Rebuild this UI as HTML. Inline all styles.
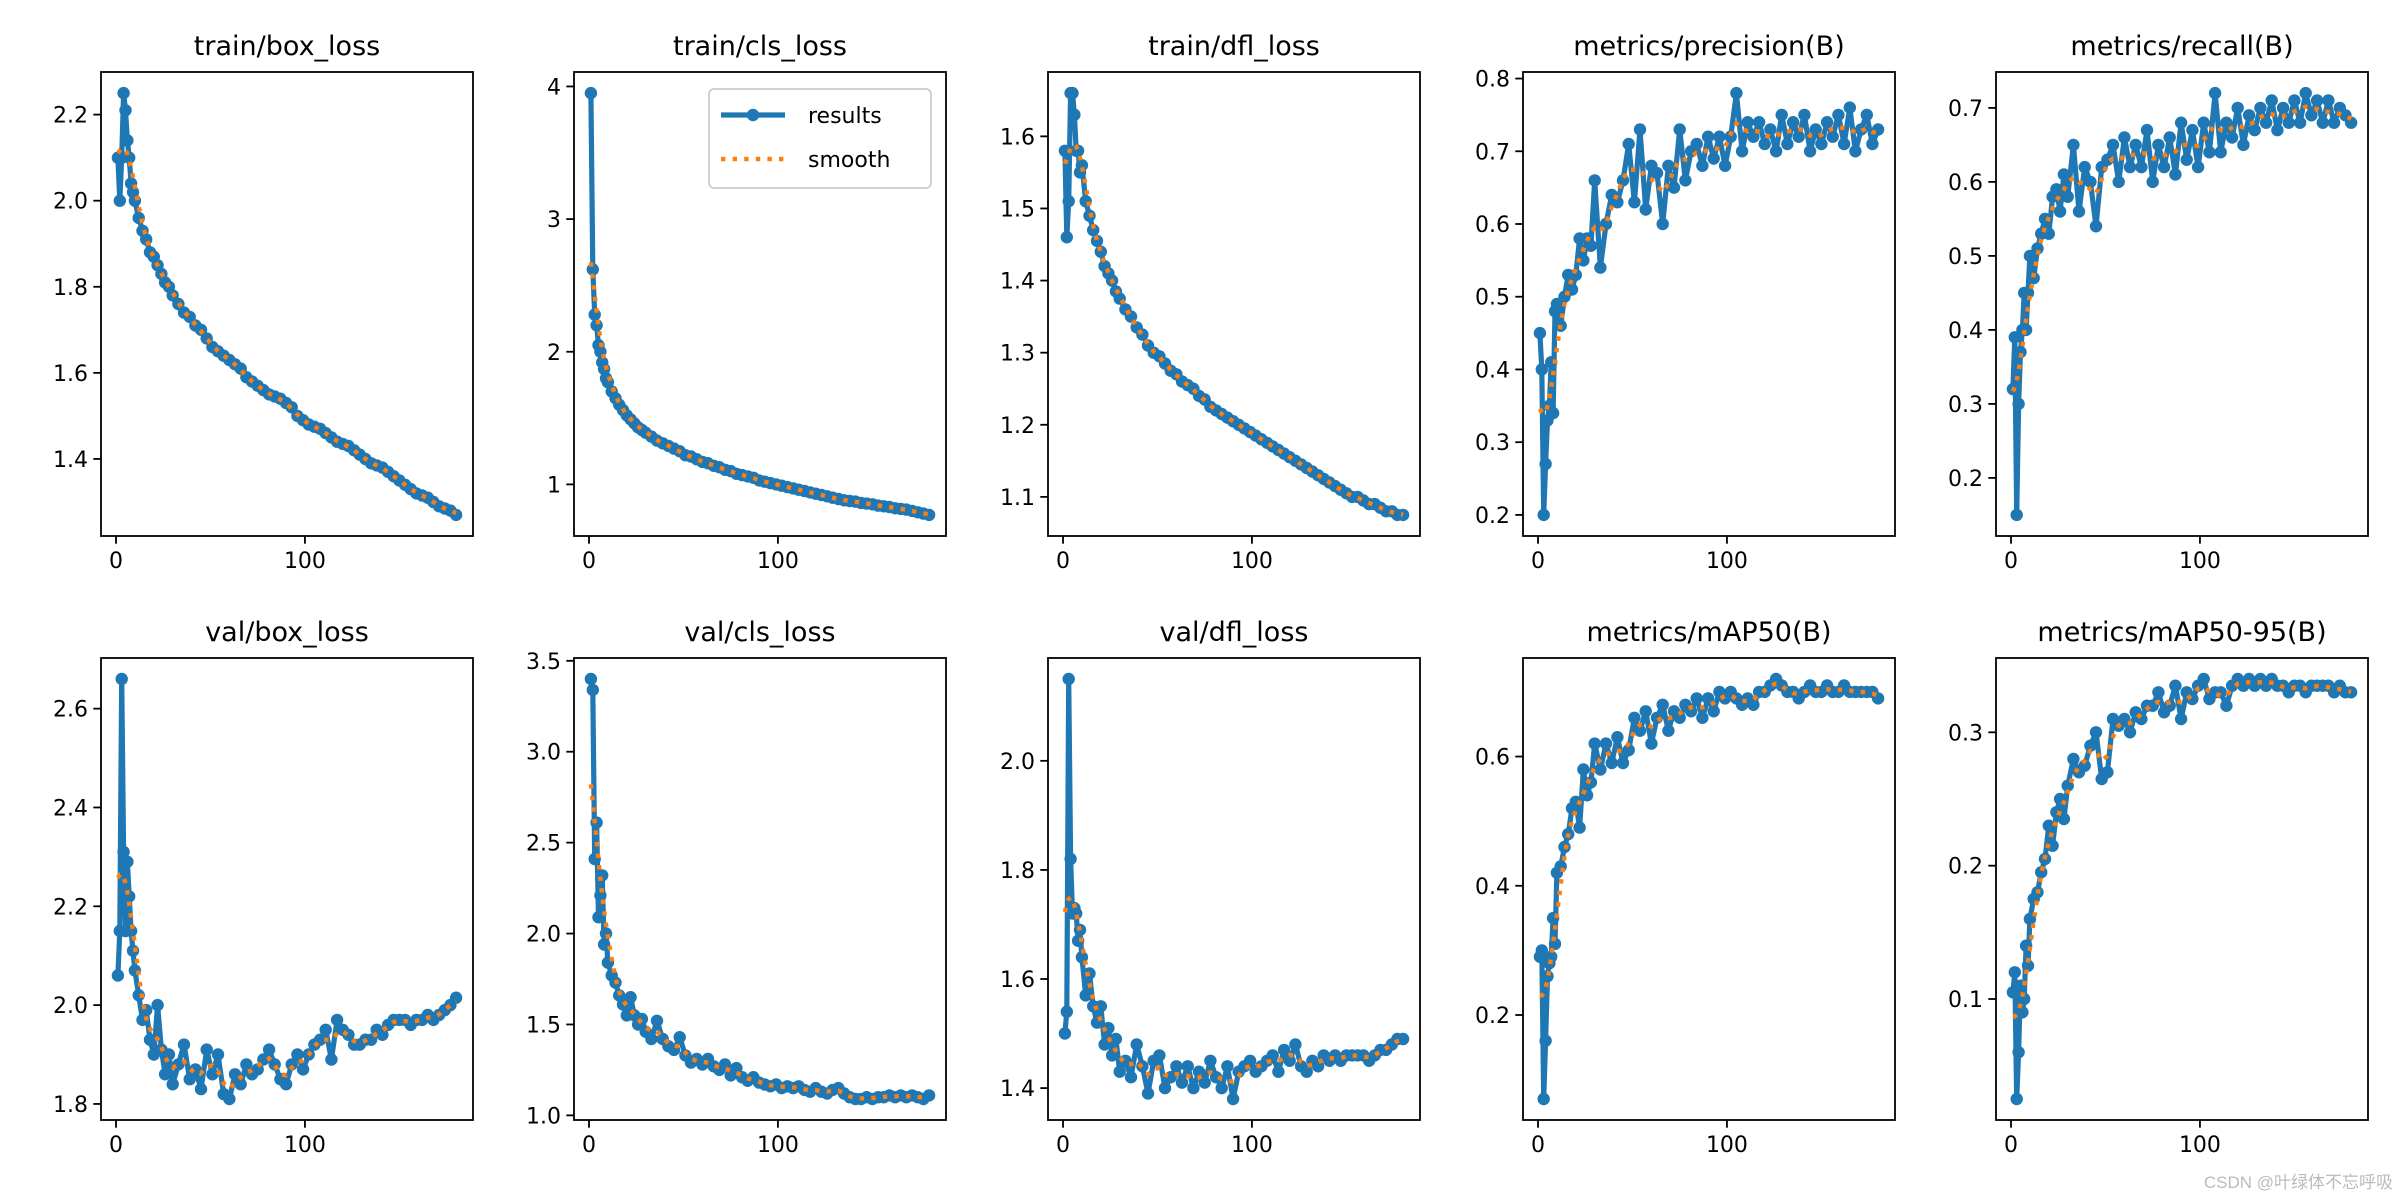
<!DOCTYPE html>
<html><head><meta charset="utf-8">
<style>
html,body{margin:0;padding:0;background:#fff;}
svg{display:block;}
text{font-family:"DejaVu Sans","Liberation Sans",sans-serif;fill:#000;}
</style></head>
<body>
<svg id="fig" width="2400" height="1200" viewBox="0 0 2400 1200" xmlns="http://www.w3.org/2000/svg">
<rect x="0" y="0" width="2400" height="1200" fill="#fff"/>
<text x="2393" y="1188" text-anchor="end" font-size="17" style="fill:#bbb;font-family:'Liberation Sans','Noto Sans CJK SC',sans-serif">CSDN @叶绿体不忘呼吸</text>
</svg>
<script>
const epochs = [1,2,3,4,5,6,7,8,9,10,12,14,16,18,20,22,24,26,28,30,33,36,39,42,45,48,51,54,57,60,63,66,69,72,75,78,81,84,87,90,93,96,99,102,105,108,111,114,117,120,123,126,129,132,135,138,141,144,147,150,153,156,159,162,165,168,171,174,177,180];
const xTicks = [0,100];
const titles = ["train/box_loss","train/cls_loss","train/dfl_loss","metrics/precision(B)","metrics/recall(B)","val/box_loss","val/cls_loss","val/dfl_loss","metrics/mAP50(B)","metrics/mAP50-95(B)"];
const trainBox = [2.10,2.00,2.10,2.25,2.21,2.14,2.10,2.04,2.02,2.00,1.96,1.93,1.91,1.88,1.87,1.85,1.83,1.81,1.80,1.78,1.76,1.74,1.73,1.71,1.70,1.68,1.66,1.65,1.64,1.63,1.62,1.61,1.59,1.58,1.57,1.56,1.55,1.545,1.54,1.53,1.52,1.50,1.49,1.48,1.475,1.47,1.46,1.45,1.44,1.435,1.43,1.42,1.41,1.40,1.39,1.385,1.38,1.37,1.36,1.35,1.34,1.33,1.32,1.315,1.31,1.30,1.29,1.285,1.28,1.27];
const trainCls = [3.95,2.62,2.28,2.20,2.05,2.00,1.92,1.87,1.80,1.77,1.70,1.65,1.60,1.56,1.52,1.49,1.46,1.43,1.41,1.39,1.36,1.33,1.31,1.29,1.27,1.25,1.22,1.21,1.19,1.17,1.16,1.14,1.13,1.11,1.10,1.08,1.07,1.06,1.05,1.03,1.02,1.01,1.00,0.99,0.98,0.97,0.96,0.95,0.94,0.93,0.92,0.91,0.90,0.89,0.88,0.875,0.87,0.86,0.855,0.85,0.84,0.835,0.83,0.82,0.815,0.81,0.80,0.79,0.78,0.77];
const trainDfl = [1.58,1.46,1.51,1.66,1.66,1.63,1.58,1.58,1.55,1.56,1.51,1.49,1.47,1.455,1.44,1.42,1.41,1.40,1.385,1.375,1.36,1.35,1.335,1.325,1.31,1.30,1.295,1.285,1.275,1.27,1.26,1.255,1.25,1.24,1.235,1.225,1.22,1.215,1.21,1.205,1.20,1.195,1.19,1.185,1.18,1.175,1.17,1.165,1.16,1.155,1.15,1.145,1.14,1.135,1.13,1.125,1.12,1.115,1.11,1.105,1.10,1.10,1.095,1.09,1.09,1.085,1.08,1.08,1.075,1.075];
const precision = [0.45,0.40,0.20,0.27,0.33,0.35,0.41,0.34,0.48,0.49,0.46,0.50,0.53,0.51,0.53,0.58,0.55,0.58,0.57,0.66,0.54,0.60,0.64,0.63,0.66,0.71,0.63,0.73,0.62,0.68,0.67,0.60,0.68,0.65,0.73,0.66,0.70,0.71,0.68,0.72,0.69,0.72,0.68,0.72,0.78,0.70,0.74,0.72,0.74,0.71,0.73,0.70,0.75,0.71,0.74,0.72,0.75,0.70,0.73,0.71,0.74,0.72,0.75,0.71,0.76,0.70,0.73,0.75,0.71,0.73];
const recall = [0.32,0.39,0.15,0.30,0.37,0.40,0.45,0.40,0.45,0.50,0.47,0.51,0.53,0.55,0.53,0.58,0.59,0.56,0.61,0.58,0.65,0.56,0.62,0.60,0.54,0.62,0.63,0.65,0.60,0.66,0.62,0.65,0.62,0.67,0.60,0.65,0.62,0.66,0.61,0.68,0.63,0.67,0.62,0.68,0.64,0.72,0.64,0.68,0.66,0.70,0.65,0.69,0.67,0.70,0.68,0.71,0.67,0.70,0.68,0.71,0.68,0.72,0.69,0.71,0.68,0.71,0.68,0.70,0.69,0.68];
const valBox = [2.06,2.15,2.66,2.31,2.15,2.29,2.22,2.15,2.11,2.07,2.02,1.97,1.99,1.93,1.90,2.00,1.91,1.86,1.90,1.84,1.88,1.92,1.85,1.87,1.83,1.91,1.86,1.90,1.82,1.81,1.86,1.84,1.88,1.86,1.87,1.89,1.91,1.88,1.85,1.84,1.88,1.90,1.87,1.90,1.92,1.93,1.95,1.89,1.97,1.95,1.94,1.92,1.92,1.93,1.93,1.95,1.94,1.96,1.97,1.97,1.97,1.96,1.97,1.97,1.98,1.97,1.98,1.99,2.00,2.015];
const valCls = [3.40,3.34,2.41,2.61,2.09,2.21,2.32,1.94,2.00,1.84,1.77,1.73,1.66,1.61,1.55,1.65,1.55,1.50,1.53,1.46,1.42,1.52,1.42,1.38,1.36,1.43,1.33,1.29,1.31,1.28,1.31,1.27,1.25,1.28,1.22,1.26,1.21,1.19,1.21,1.18,1.17,1.16,1.17,1.15,1.16,1.15,1.16,1.14,1.13,1.15,1.13,1.12,1.14,1.15,1.12,1.10,1.09,1.09,1.10,1.09,1.10,1.10,1.11,1.10,1.11,1.10,1.11,1.10,1.09,1.11];
const valDfl = [1.50,1.54,2.15,1.82,1.72,1.73,1.72,1.67,1.69,1.64,1.57,1.61,1.55,1.52,1.55,1.48,1.51,1.46,1.49,1.43,1.45,1.42,1.48,1.44,1.39,1.45,1.46,1.40,1.42,1.44,1.41,1.44,1.40,1.43,1.41,1.45,1.42,1.40,1.44,1.38,1.43,1.44,1.45,1.43,1.44,1.45,1.46,1.43,1.47,1.45,1.48,1.44,1.43,1.45,1.44,1.46,1.45,1.46,1.45,1.46,1.46,1.46,1.46,1.45,1.46,1.47,1.47,1.48,1.49,1.49];
const map50 = [0.29,0.30,0.07,0.16,0.26,0.28,0.29,0.35,0.31,0.42,0.43,0.46,0.48,0.52,0.53,0.49,0.58,0.54,0.56,0.62,0.58,0.62,0.59,0.63,0.59,0.61,0.66,0.64,0.67,0.62,0.66,0.68,0.64,0.67,0.66,0.68,0.67,0.69,0.66,0.69,0.67,0.70,0.69,0.70,0.69,0.68,0.69,0.68,0.70,0.70,0.71,0.72,0.71,0.70,0.70,0.69,0.70,0.71,0.70,0.70,0.71,0.70,0.70,0.71,0.70,0.70,0.70,0.70,0.70,0.69];
const map5095 = [0.105,0.12,0.025,0.06,0.11,0.09,0.10,0.14,0.125,0.16,0.175,0.18,0.195,0.205,0.23,0.215,0.24,0.25,0.235,0.26,0.28,0.27,0.275,0.29,0.30,0.265,0.27,0.31,0.305,0.31,0.30,0.315,0.31,0.32,0.32,0.33,0.315,0.32,0.335,0.31,0.33,0.325,0.335,0.34,0.325,0.33,0.33,0.32,0.335,0.34,0.335,0.34,0.335,0.34,0.335,0.34,0.335,0.335,0.33,0.335,0.335,0.33,0.335,0.335,0.335,0.335,0.33,0.335,0.33,0.33];
const yTicks1 = [1.4,1.6,1.8,2.0,2.2];
const yTicks2 = [1,2,3,4];
const yTicks3 = [1.1,1.2,1.3,1.4,1.5,1.6];
const yTicks4 = [0.2,0.3,0.4,0.5,0.6,0.7,0.8];
const yTicks5 = [0.2,0.3,0.4,0.5,0.6,0.7];
const yTicks6 = [1.8,2.0,2.2,2.4,2.6];
const yTicks7 = [1.0,1.5,2.0,2.5,3.0,3.5];
const yTicks8 = [1.4,1.6,1.8,2.0];
const yTicks9 = [0.2,0.4,0.6];
const yTicks10 = [0.1,0.2,0.3];
const yTickDigits = [1,0,1,1,1,1,1,1,1,1];

const series = [trainBox,trainCls,trainDfl,precision,recall,valBox,valCls,valDfl,map50,map5095];
const tickSets = [yTicks1,yTicks2,yTicks3,yTicks4,yTicks5,yTicks6,yTicks7,yTicks8,yTicks9,yTicks10];

const NS = "http://www.w3.org/2000/svg";
const svg = document.getElementById('fig');
const LEFTS = [101,574,1048,1523,1996], AW = 372;
const TOPS = [72,658], AH = [464,462];
const BLUE = "#1f77b4", ORANGE = "#ff7f0e";

function mk(tag, attrs, parent){
  const e = document.createElementNS(NS, tag);
  for (const k in attrs) e.setAttribute(k, attrs[k]);
  (parent||svg).appendChild(e);
  return e;
}
function slug(s){ return s.replace(/[^a-zA-Z0-9]+/g,'-').replace(/^-|-$/g,'').toLowerCase(); }
function smoothOf(xs, ys){
  return ys.map((_, i) => {
    let sw = 0, s = 0;
    for (let j = 0; j < ys.length; j++){
      const d = xs[i]-xs[j];
      const w = Math.exp(-d*d/18);
      sw += w; s += w*ys[j];
    }
    return s/sw;
  });
}

series.forEach((vals, p) => {
  const n = Math.min(vals.length, epochs.length);
  const xs = epochs.slice(0,n), ys = vals.slice(0,n);
  const sm = smoothOf(xs, ys);
  const L = LEFTS[p%5], T = TOPS[Math.floor(p/5)], H = AH[Math.floor(p/5)];
  const xmin0 = Math.min(...xs), xmax0 = Math.max(...xs), xr = xmax0-xmin0;
  const xlo = xmin0-0.05*xr, xhi = xmax0+0.05*xr;
  const all = ys.concat(sm);
  const ymin0 = Math.min(...all), ymax0 = Math.max(...all), yr = ymax0-ymin0;
  const ylo = ymin0-0.05*yr, yhi = ymax0+0.05*yr;
  const X = v => L + (v-xlo)/(xhi-xlo)*AW;
  const Y = v => T + H - (v-ylo)/(yhi-ylo)*H;
  const name = slug(titles[p]);

  const g = mk('g', {});
  
  

  const title = mk('text', {x: L+AW/2, y: T-17, 'text-anchor':'middle', 'font-size':27}, g);
  title.textContent = titles[p];
  
  

  const pts = xs.map((x,i) => X(x).toFixed(1)+','+Y(ys[i]).toFixed(1)).join(' ');
  const line = mk('polyline', {points: pts, fill:'none', stroke: BLUE, 'stroke-width':5.2, 'stroke-linejoin':'round'}, g);
  
  
  xs.forEach((x,i) => {
    const c = mk('circle', {cx: X(x).toFixed(1), cy: Y(ys[i]).toFixed(1), r: 6.2, fill: BLUE}, g);
    
    
  });
  const spts = xs.map((x,i) => X(x).toFixed(1)+','+Y(sm[i]).toFixed(1)).join(' ');
  const sl = mk('polyline', {points: spts, fill:'none', stroke: ORANGE, 'stroke-width':4.4, 'stroke-dasharray':'4.4 7.2'}, g);
  
  

  const fr = mk('rect', {x:L, y:T, width:AW, height:H, fill:'none', stroke:'#000', 'stroke-width':1.8}, g);
  
  

  xTicks.forEach(t => {
    const x = X(t);
    const tk = mk('line', {x1:x, x2:x, y1:T+H, y2:T+H+7.7, stroke:'#000', 'stroke-width':1.8}, g);
    
    
    const lb = mk('text', {x:x, y:T+H+32, 'text-anchor':'middle', 'font-size':22}, g);
    lb.textContent = String(t);
    
    
  });
  tickSets[p].forEach(t => {
    if (t < ylo || t > yhi) return;
    const y = Y(t);
    const tk = mk('line', {x1:L-7.7, x2:L, y1:y, y2:y, stroke:'#000', 'stroke-width':1.8}, g);
    
    
    const lb = mk('text', {x:L-13, y:y+8, 'text-anchor':'end', 'font-size':22}, g);
    lb.textContent = t.toFixed(yTickDigits[p]);
    
    
  });

  if (p === 1){
    const lg = mk('g', {});
    
    
    mk('rect', {x:709, y:89, width:222, height:99, rx:5, fill:'#fff', 'fill-opacity':0.8, stroke:'#ccc', 'stroke-width':1.8}, lg);
    const l1 = mk('line', {x1:721, x2:785, y1:115, y2:115, stroke:BLUE, 'stroke-width':5.2}, lg);
    
    
    mk('circle', {cx:753, cy:115, r:6.2, fill:BLUE}, lg);
    const t1 = mk('text', {x:808, y:123, 'font-size':22}, lg);
    t1.textContent = 'results';
    
    
    const l2 = mk('line', {x1:721, x2:785, y1:159, y2:159, stroke:ORANGE, 'stroke-width':4.4, 'stroke-dasharray':'4.4 7.2'}, lg);
    
    
    const t2 = mk('text', {x:808, y:167, 'font-size':22}, lg);
    t2.textContent = 'smooth';
    
    
  }
});
</script>
</body></html>
